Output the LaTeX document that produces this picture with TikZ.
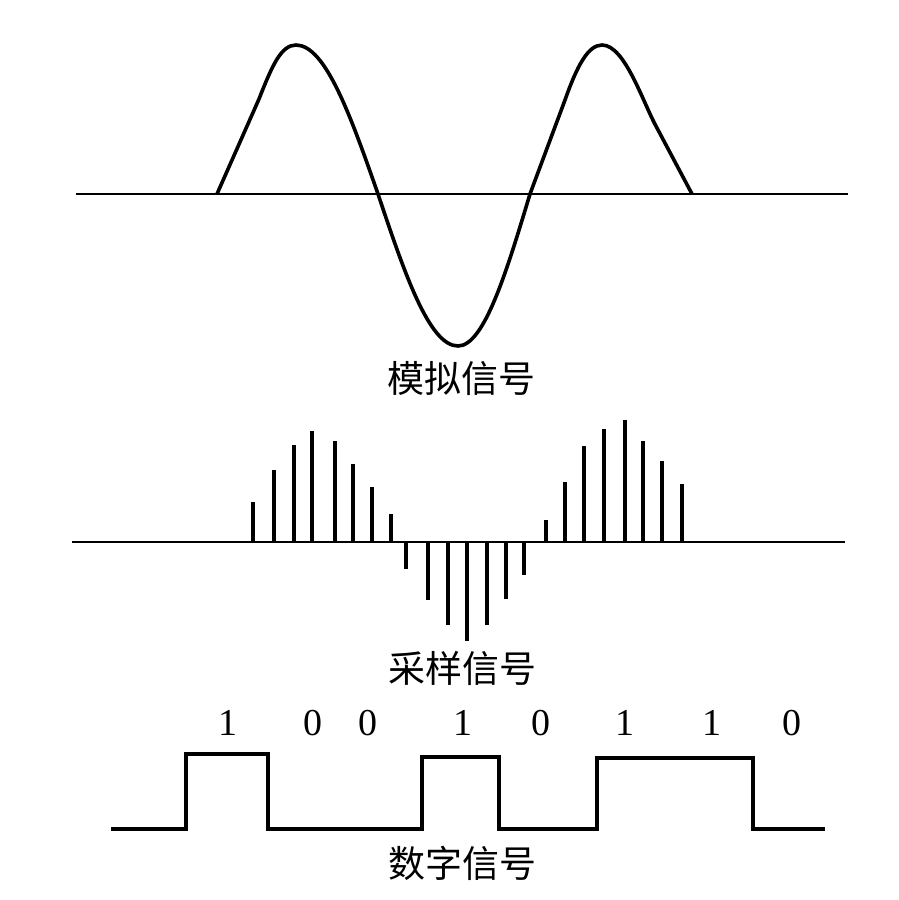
\documentclass[tikz,border=0pt]{standalone}
\usepackage{fontspec}
\setmainfont{Liberation Serif}
\newfontfamily\cjk{Noto Sans CJK SC}
\begin{document}
\begin{tikzpicture}[x=0.5pt,y=-0.5pt,
  axisline/.style={line width=1.2pt},
  wave/.style={line width=1.8pt, line join=round},
  stick/.style={line width=1.8pt},
  pulse/.style={line width=1.7pt, line join=miter},
  lbl/.style={font=\cjk\fontsize{18.5}{18.5}\selectfont, inner sep=0},
  bit/.style={font=\fontsize{19}{19}\selectfont, inner sep=0, anchor=base}]
\useasboundingbox (0,0) rectangle (899,900);
% analog signal
\coordinate (a1) at (76,194);
\coordinate (a2) at (848,194);
\draw[axisline] (a1) -- (a2);
\draw[wave] (217,194) -- (259,99) .. controls (272,66) and (281,45) .. (296,45)
  cos (378,194) sin (458,346) cos (530,194) -- (565,100)
  .. controls (577,66) and (588,45) .. (602,45)
  .. controls (625,45) and (643,103) .. (657,128) -- (692,194);
\node[lbl] (analog) at (461,378) {模拟信号};
% sampled signal
\coordinate (s1) at (72,542);
\coordinate (s2) at (845,542);
\draw[axisline] (s1) -- (s2);
\foreach \x/\y in {253/502, 274/470, 294/445, 312/431, 335/441, 353/464, 372/487, 391/514,
  406/569, 428/600, 448/625, 467/641, 487/625, 506/599, 524/575,
  546/520, 565/482, 584/446, 604/429, 625/420, 643/441, 662/461, 682/484}
  \draw[stick] (\x,542) -- (\x,\y);
\node[lbl] (sampled) at (462,668) {采样信号};
% digital signal
\draw[pulse] (111,829) -- (186,829) -- (186,754) -- (268,754) -- (268,829) -- (422,829)
  -- (422,757) -- (499,757) -- (499,829) -- (597,829) -- (597,758) -- (753,758)
  -- (753,829) -- (825,829);
\node[bit] (b1) at (228,735) {1};
\node[bit] (b2) at (313,735) {0};
\node[bit] (b3) at (368,735) {0};
\node[bit] (b4) at (463,735) {1};
\node[bit] (b5) at (541,735) {0};
\node[bit] (b6) at (625,735) {1};
\node[bit] (b7) at (712,735) {1};
\node[bit] (b8) at (792,735) {0};
\node[lbl] (digital) at (462,863) {数字信号};
\end{tikzpicture}
\end{document}
